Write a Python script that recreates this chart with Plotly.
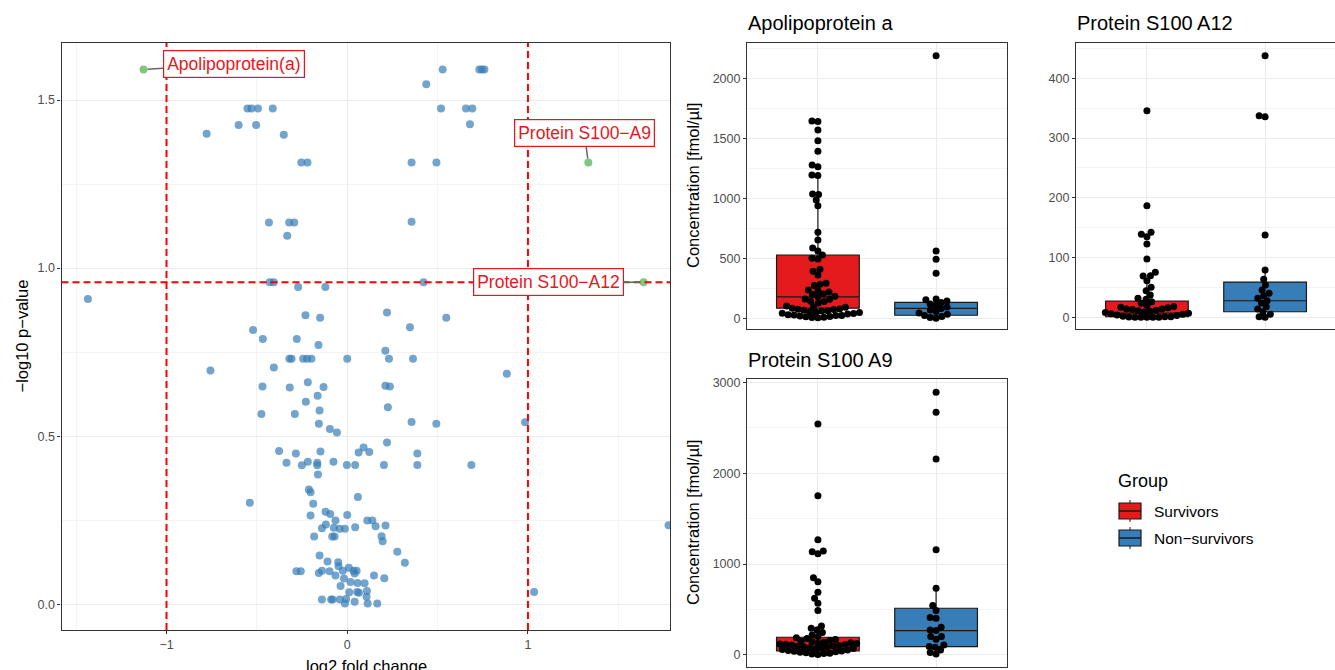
import math
import plotly.graph_objects as go

# ---------------- Volcano data ----------------
log2fc = [0.528, 0.731, 0.746, 0.759, 0.4375,
          -0.552, -0.530, -0.494, -0.412, 0.519, 0.657, 0.692,
          0.679, -0.601, -0.504, -0.778, -0.351,
          -0.254, -0.220, 0.356, 0.4935,
          -0.433, -0.321, -0.293, 0.356, -0.332,
          -0.429, -0.407, 0.4224, -0.2716, -0.121, -1.435,
          -0.231, -0.150, 0.220, 0.548, 0.347, -0.521, -0.467, -0.279, -0.159, 0.211,
          -0.320, -0.308, -0.244, -0.222, -0.198, 0.0, 0.231, 0.364,
          -0.757, -0.406, 0.883,
          -0.469, -0.318, -0.218, -0.131, 0.211, 0.236,
          -0.164, -0.229, -0.153, 0.225, -0.475, -0.290,
          -0.157, -0.096, -0.057, 0.356, 0.493, 0.984,
          0.220, 0.0905, 0.063, 0.122, -0.377, -0.284, -0.148, 0.388,
          -0.336, -0.251, -0.218, -0.166, -0.166, -0.076, -0.002, 0.044, 0.203, 0.388, 0.687,
          -0.162, -0.212, -0.203, 0.059, -0.539, -0.188,
          -0.120, -0.094, 0.0, -0.203, -0.065, -0.118, -0.140, -0.074, -0.042, -0.013, 0.044,
          0.111, 0.139, 0.157, 0.212,
          -0.183, -0.083, -0.070, 0.190, 0.196, 0.277, 0.319,
          -0.153, -0.109, -0.050, -0.048,
          -0.281, -0.257, -0.157, -0.140, -0.098, -0.065, -0.024, 0.009, 0.035, 0.052, 0.041,
          -0.018, 0.018, 0.057, 0.096, 0.148, 0.205,
          -0.037, 0.011, 0.055, 0.065, 0.109, 0.107,
          -0.140, -0.089, -0.081, -0.041, -0.013, -0.006, 0.041, 0.113, 0.166,
          1.034, 1.778]
neglog10p = [1.591, 1.591, 1.591, 1.591, 1.547,
             1.475, 1.475, 1.475, 1.475, 1.475, 1.475, 1.475,
             1.428, 1.426, 1.426, 1.400, 1.397,
             1.3145, 1.3145, 1.3145, 1.3145,
             1.136, 1.136, 1.136, 1.138, 1.096,
             0.958, 0.958, 0.958, 0.944, 0.944, 0.908,
             0.860, 0.852, 0.868, 0.852, 0.824, 0.816, 0.789, 0.789, 0.771, 0.754,
             0.730, 0.730, 0.730, 0.730, 0.730, 0.730, 0.730, 0.730,
             0.695, 0.704, 0.686,
             0.648, 0.645, 0.660, 0.646, 0.650, 0.648,
             0.620, 0.602, 0.576, 0.586, 0.566, 0.566,
             0.537, 0.521, 0.511, 0.542, 0.537, 0.541,
             0.481, 0.466, 0.451, 0.453, 0.456, 0.448, 0.454, 0.448,
             0.421, 0.413, 0.424, 0.421, 0.413, 0.424, 0.414, 0.414, 0.414, 0.414, 0.414,
             0.386, 0.341, 0.333, 0.319, 0.302, 0.299,
             0.275, 0.268, 0.265, 0.264, 0.249, 0.237, 0.226, 0.227, 0.224, 0.224, 0.229,
             0.249, 0.249, 0.232, 0.234,
             0.201, 0.201, 0.201, 0.202, 0.187, 0.156, 0.123,
             0.145, 0.127, 0.125, 0.113,
             0.098, 0.098, 0.093, 0.099, 0.098, 0.085, 0.099, 0.108, 0.099, 0.099, 0.091,
             0.076, 0.066, 0.063, 0.062, 0.085, 0.077,
             0.054, 0.035, 0.036, 0.034, 0.039, 0.022,
             0.014, 0.014, 0.014, 0.014, 0.002, 0.015, 0.007, 0.002, 0.002,
             0.036, 0.235]

hit_names = ["Apolipoprotein(a)", "Protein S100\u2212A9", "Protein S100\u2212A12"]
hit_log2fc = [-1.127, 1.334, 1.640]
hit_neglog10p = [1.591, 1.3145, 0.958]
hit_label_offsets = [(90, -6), (-4, -29), (-95, 0)]  # label offset from point in px

fc_cutoff = 1.0
p_cutoff = 0.958

# ---------------- Box-panel data ----------------
groups = ["Survivors", "Non\u2212survivors"]
group_colors = ["#E41A1C", "#377EB8"]

apo_surv = [1650, 1645, 1575, 1486, 1397, 1283, 1269, 1200, 1195, 1042, 1038, 992, 944,
            722, 658, 592, 567, 533, 506, 500, 414, 397, 367, 297, 289, 278, 242, 238,
            225, 208, 205, 189, 186, 167, 165, 147, 145, 133,
            108, 103, 97, 90, 84, 81, 78, 72, 69, 66, 60, 57, 54, 48, 45, 42, 36, 33, 30,
            28, 25, 20, 18, 15, 13, 10]
apo_non = [6, 12, 20, 30, 40, 50, 62, 75, 88, 100, 112, 125, 138, 150, 160, 166, 381, 497, 567, 2194]

a12_surv = [0, 0, 0, 0, 0, 0.5, 1, 1, 2, 3, 4, 5, 6, 7,
            8, 9, 10, 11, 12, 13, 14, 14, 16, 17, 18, 20, 23.4, 26.2, 30.1, 31.8, 37.3, 44.6,
            50.2, 61.4, 69.2, 69.5, 75.3, 97.6, 122.7, 135, 138.9, 142.3, 186.8, 345.8]
a12_non = [0, 1, 5, 9.4, 14, 17.8, 24, 27.8, 31.8, 36, 40.2, 45.7, 54, 63.6, 79.2, 137.8,
           335.8, 337.4, 437.9]

a9_surv = [2541, 1753, 1269, 1144, 1137, 1115, 851, 807, 689, 623, 568, 488, 319, 293, 275,
           246, 220, 202, 190, 180, 170, 160, 150, 145, 140, 135, 130, 125, 121, 118, 115,
           110, 105, 100, 95, 90, 85, 80, 75, 70, 65, 60, 55, 50, 45, 40, 35, 30, 25, 20,
           15, 10, 5]
a9_non = [2890, 2670, 2156, 1159, 733, 543, 488, 411, 403, 304, 275, 268, 202, 202, 172, 110,
          92, 84, 55, 26, 11]

# box statistics [Survivors, Non-survivors]
apo_q1, apo_med, apo_q3, apo_lo, apo_hi = [90, 31], [185, 89], [533, 139], [10, 6], [1200, 166]
a12_q1, a12_med, a12_q3, a12_lo, a12_hi = [1, 9.4], [7, 27.8], [27, 59], [0, 0], [61, 79]
a9_q1, a9_med, a9_q3, a9_lo, a9_hi = [44, 91], [99, 267], [195, 514], [5, 11], [319, 734]

panel_titles = ["Apolipoprotein a", "Protein S100 A12", "Protein S100 A9"]

# ---------------- Layout geometry ----------------
W, H = 1335, 670


def px_dom_x(a, b):
    return [a / W, min(b / W, 1.0)]


def px_dom_y(top, bottom):
    return [1 - bottom / H, 1 - top / H]


volc_dom_x = px_dom_x(61.5, 670)
volc_dom_y = px_dom_y(43, 630)
apo_dom_x = px_dom_x(747, 1007)
apo_dom_y = px_dom_y(43.3, 329.3)
a12_dom_x = px_dom_x(1076, 1335)
a12_dom_y = apo_dom_y
a9_dom_x = apo_dom_x
a9_dom_y = px_dom_y(379.3, 666.7)

apo_range = [-86, 2297]
a12_range = [-20, 458.6]
a9_range = [-129, 3033]
cat_range = [0.4, 2.6]
a12_cat_range = [0.4, 0.4 + (1335 - 1076) / ((1007 - 747) / 2.2)]


def swarm(values, px_per_unit, d=6.0):
    order = sorted(range(len(values)), key=lambda i: values[i])
    placed = []
    offs = [0.0] * len(values)
    for i in order:
        y = values[i] * px_per_unit
        cands = [0.0]
        for (yy, xx) in placed:
            dy = abs(y - yy)
            if dy < d:
                dx = math.sqrt(d * d - dy * dy)
                cands += [xx + dx, xx - dx]
        best = 0.0
        for c in sorted(cands, key=lambda c: (abs(c), c)):
            if all((c - xx) ** 2 + (y - yy) ** 2 >= d * d - 1e-6 for (yy, xx) in placed):
                best = c
                break
        placed.append((y, best))
        offs[i] = best
    return offs


fig = go.Figure()

# ---------------- Volcano ----------------
fig.add_trace(go.Scatter(x=log2fc, y=neglog10p, mode="markers", xaxis="x", yaxis="y",
                         marker=dict(size=8, color="rgba(55,126,184,0.7)", line=dict(width=0)),
                         showlegend=False, hoverinfo="skip"))
fig.add_trace(go.Scatter(x=hit_log2fc, y=hit_neglog10p, mode="markers", xaxis="x", yaxis="y",
                         marker=dict(size=8, color="rgba(77,175,74,0.7)", line=dict(width=0)),
                         showlegend=False, hoverinfo="skip"))

# ---------------- Box panels ----------------
panels = [
    ("x2", "y2", [apo_surv, apo_non], (apo_q1, apo_med, apo_q3, apo_lo, apo_hi), apo_range, apo_dom_x, apo_dom_y, cat_range),
    ("x3", "y3", [a12_surv, a12_non], (a12_q1, a12_med, a12_q3, a12_lo, a12_hi), a12_range, a12_dom_x, a12_dom_y, a12_cat_range),
    ("x4", "y4", [a9_surv, a9_non], (a9_q1, a9_med, a9_q3, a9_lo, a9_hi), a9_range, a9_dom_x, a9_dom_y, cat_range),
]

for xa, ya, data, stats, yr, dx, dy, xr in panels:
    q1, med, q3, lo, hi = stats
    ppu_y = (dy[1] - dy[0]) * H / (yr[1] - yr[0])
    ppu_x = (dx[1] - dx[0]) * W / (xr[1] - xr[0])
    for g in range(2):
        fig.add_trace(go.Box(x=[g + 1], q1=[q1[g]], median=[med[g]], q3=[q3[g]],
                             lowerfence=[lo[g]], upperfence=[hi[g]], width=0.7,
                             fillcolor=group_colors[g], line=dict(color="#1a1a1a", width=1.2),
                             whiskerwidth=0, boxpoints=False, name=groups[g],
                             showlegend=False, xaxis=xa, yaxis=ya, hoverinfo="skip"))
    for g in range(2):
        offs = swarm(data[g], ppu_y, d=6.0)
        xs = [g + 1 + o / ppu_x for o in offs]
        fig.add_trace(go.Scatter(x=xs, y=data[g], mode="markers", xaxis=xa, yaxis=ya,
                                 marker=dict(size=7, color="black", line=dict(width=0)),
                                 showlegend=False, hoverinfo="skip"))

# ---------------- Axes ----------------
tickfont = dict(size=12.5, color="#4D4D4D", family="Liberation Sans, Arial")
common = dict(showline=True, mirror=True, linecolor="#333333", linewidth=1.1,
              ticks="outside", ticklen=3, tickcolor="#333333", tickwidth=1,
              gridcolor="#EBEBEB", gridwidth=1, zeroline=False, tickfont=tickfont,
              automargin=False)

fig.update_layout(
    xaxis=dict(domain=volc_dom_x, range=[-1.581, 1.786], anchor="y",
               tickvals=[-1, 0, 1], ticktext=["\u22121", "0", "1"],
               minor=dict(tickvals=[-1.5, -0.5, 0.5, 1.5], showgrid=True, gridcolor="#F4F4F4", ticks=""),
               **common),
    yaxis=dict(domain=volc_dom_y, range=[-0.077, 1.67], anchor="x",
               tickvals=[0, 0.5, 1, 1.5], ticktext=["0.0", "0.5", "1.0", "1.5"],
               minor=dict(tickvals=[0.25, 0.75, 1.25], showgrid=True, gridcolor="#F4F4F4", ticks=""),
               **common),
)

box_axes = {
    "2": (apo_dom_x, apo_dom_y, cat_range, apo_range, [0, 500, 1000, 1500, 2000], [250, 750, 1250, 1750, 2250]),
    "3": (a12_dom_x, a12_dom_y, a12_cat_range, a12_range, [0, 100, 200, 300, 400], [50, 150, 250, 350, 450]),
    "4": (a9_dom_x, a9_dom_y, cat_range, a9_range, [0, 1000, 2000, 3000], [500, 1500, 2500]),
}
for k, (dxx, dyy, xr, yr, tv, mv) in box_axes.items():
    xc = dict(common)
    xc.update(ticks="", showticklabels=False)
    fig.update_layout(**{
        "xaxis" + k: dict(domain=dxx, range=xr, anchor="y" + k, tickvals=[1, 2], **xc),
        "yaxis" + k: dict(domain=dyy, range=yr, anchor="x" + k, tickvals=tv,
                          minor=dict(tickvals=mv, showgrid=True, gridcolor="#F4F4F4", ticks=""),
                          **common),
    })

# ---------------- Reference lines ----------------
dash_line = dict(color="#FF0000", width=2, dash="7px,4px")
for xv in [-fc_cutoff, fc_cutoff]:
    fig.add_shape(type="line", xref="x", yref="y domain", x0=xv, x1=xv, y0=0, y1=1,
                  line=dash_line, layer="above")
fig.add_shape(type="line", xref="x domain", yref="y", x0=0, x1=1, y0=p_cutoff, y1=p_cutoff,
              line=dash_line, layer="above")

# ---------------- Legend (drawn manually, ggplot style) ----------------
legend_x0, legend_x1, legend_xm = 1119, 1141, 1130
legend_rows = [511, 538]
for g, yc in enumerate(legend_rows):
    fig.add_shape(type="line", xref="paper", yref="paper",
                  x0=legend_xm / W, x1=legend_xm / W, y0=1 - (yc - 11) / H, y1=1 - (yc + 11) / H,
                  line=dict(color="#1a1a1a", width=1))
    fig.add_shape(type="rect", xref="paper", yref="paper",
                  x0=legend_x0 / W, x1=legend_x1 / W, y0=1 - (yc - 8) / H, y1=1 - (yc + 8) / H,
                  fillcolor=group_colors[g], line=dict(color="#1a1a1a", width=1.2))
    fig.add_shape(type="line", xref="paper", yref="paper",
                  x0=legend_x0 / W, x1=legend_x1 / W, y0=1 - yc / H, y1=1 - yc / H,
                  line=dict(color="#1a1a1a", width=1.5))

# ---------------- Text ----------------
font_family = "Liberation Sans, Arial"
ann = []
for name, xv, yv, (ax, ay) in zip(hit_names, hit_log2fc, hit_neglog10p, hit_label_offsets):
    ann.append(dict(x=xv, y=yv, xref="x", yref="y", text=name, showarrow=True,
                    arrowhead=0, arrowwidth=1.5, arrowcolor="#666666", ax=ax, ay=ay,
                    standoff=4, bgcolor="white", bordercolor="#E8161C", borderwidth=1.2,
                    borderpad=3, font=dict(size=17.5, color="#E8161C", family=font_family)))

title_font = dict(size=16.5, color="black", family=font_family)
ann.append(dict(x=366 / W, y=1 - 666 / H, xref="paper", yref="paper", text="log2 fold change",
                showarrow=False, xanchor="center", yanchor="middle", font=title_font))
ann.append(dict(x=21 / W, y=1 - 336.5 / H, xref="paper", yref="paper",
                text="\u2212log10 p\u2212value", textangle=-90,
                showarrow=False, xanchor="center", yanchor="middle", font=title_font))
for yc in [186, 523]:
    ann.append(dict(x=693 / W, y=1 - yc / H, xref="paper", yref="paper",
                    text="Concentration [fmol/\u00b5l]", textangle=-90,
                    showarrow=False, xanchor="center", yanchor="middle", font=title_font))

ptitle_font = dict(size=20, color="black", family=font_family)
for t, (xp, yp) in zip(panel_titles, [(746, 23), (1075, 23), (746, 360)]):
    ann.append(dict(x=xp / W, y=1 - yp / H, xref="paper", yref="paper", text=t,
                    showarrow=False, xanchor="left", yanchor="middle", font=ptitle_font))

ann.append(dict(x=1116 / W, y=1 - 481 / H, xref="paper", yref="paper", text="Group",
                showarrow=False, xanchor="left", yanchor="middle",
                font=dict(size=18, color="black", family=font_family)))
for g, yc in enumerate(legend_rows):
    ann.append(dict(x=1152 / W, y=1 - yc / H, xref="paper", yref="paper", text=groups[g],
                    showarrow=False, xanchor="left", yanchor="middle",
                    font=dict(size=15.5, color="black", family=font_family)))

fig.update_layout(
    width=W, height=H, margin=dict(l=0, r=0, t=0, b=0, autoexpand=False),
    paper_bgcolor="white", plot_bgcolor="white",
    annotations=ann,
    showlegend=False,
)

fig.write_html("out.html", config={"displayModeBar": False},
               post_script="document.body.style.margin='0';document.body.style.padding='0';")
